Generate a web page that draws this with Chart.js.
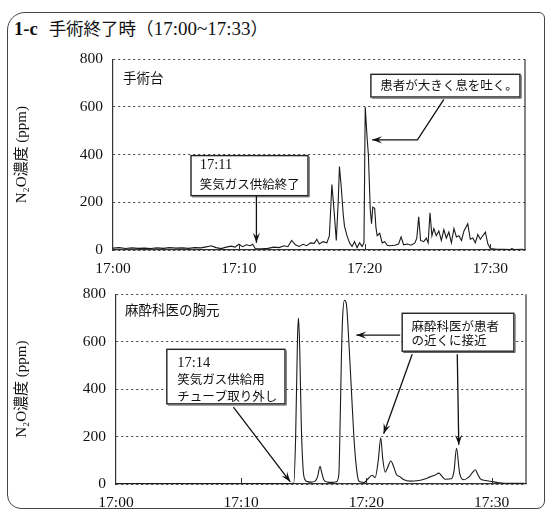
<!DOCTYPE html>
<html><head><meta charset="utf-8">
<script src="https://cdn.jsdelivr.net/npm/chart.js@4/dist/chart.umd.min.js"></script>
<style>
html,body{margin:0;padding:0;background:#fff;width:554px;height:516px;overflow:hidden;}
#frame{position:absolute;left:7px;top:12px;width:538px;height:497px;border:1.5px solid #444;border-radius:18px 6px 8px 14px;box-sizing:border-box;}
#title{position:absolute;left:14px;top:17px;font-size:19px;line-height:22px;color:#111;white-space:nowrap;
 font-family:'Liberation Serif','DejaVu Serif','Noto Sans CJK JP',serif;}
#title b{font-weight:bold;font-size:18.5px;margin-right:11px;}
#title .jp{font-family:'Noto Sans CJK JP',sans-serif;font-size:17.5px;}
canvas{position:absolute;left:0;}
#c1{top:40px;}
#c2{top:275px;}
</style></head>
<body>
<div id="frame"></div>
<div id="title"><b>1-c</b><span class="jp">手術終了時（</span>17:00~17:33<span class="jp">）</span></div>
<canvas id="c1" width="554" height="240"></canvas>
<canvas id="c2" width="554" height="240"></canvas>
<script>
// ---- data (minutes after 17:00, N2O ppm) ----
const xTickLabels = ['17:00','17:10','17:20','17:30'];
const yTickValues = [0,200,400,600,800];

const topTimes = [0,0.5,1.0,1.5,2.0,2.5,3.0,3.5,4.0,4.5,5.0,5.5,6.0,6.5,7.0,7.5,7.8,8.2,8.6,9.0,9.4,9.7,10.0,10.3,10.6,10.9,11.1,11.3,11.8,12.3,12.8,13.2,13.6,13.9,14.2,14.5,14.8,15.1,15.4,15.7,16.0,16.2,16.4,16.7,17.0,17.2,17.4,17.55,17.75,17.9,18.0,18.15,18.3,18.4,18.6,18.8,19.0,19.2,19.4,19.6,19.8,19.95,20.05,20.2,20.3,20.45,20.55,20.65,20.8,20.9,21.0,21.2,21.4,21.6,21.8,22.0,22.4,22.7,22.9,23.1,23.4,23.7,24.0,24.15,24.3,24.45,24.7,24.9,25.05,25.2,25.35,25.5,25.7,25.9,26.1,26.3,26.5,26.7,26.9,27.1,27.3,27.5,27.7,27.9,28.2,28.4,28.6,28.8,29.0,29.2,29.4,29.6,29.8,30.0,30.5,31.0,31.6,31.7,31.9,32.6];
const topValues = [8,10,6,9,7,8,6,9,7,10,8,9,7,10,9,14,18,10,6,12,16,12,24,14,22,18,24,6,5,7,12,10,18,14,40,22,15,24,18,30,28,45,25,35,30,60,275,180,40,200,350,260,150,100,60,30,15,35,10,30,15,30,600,470,400,170,110,180,175,95,60,70,30,35,20,18,20,25,55,22,25,20,30,50,139,40,35,50,30,156,60,90,60,80,40,85,50,75,30,90,55,60,40,80,110,45,50,30,65,45,60,75,25,6,3,3,2,6,2,3];

const botTimes = [0,5,10,13.5,14.2,14.35,14.5,14.58,14.68,14.8,14.95,15.1,15.3,15.6,15.9,16.1,16.3,16.4,16.6,16.9,17.3,17.6,17.8,17.9,18.0,18.1,18.25,18.4,18.6,18.8,19.0,19.2,19.4,19.6,19.8,20.1,20.45,20.7,20.95,21.15,21.3,21.5,21.7,21.95,22.2,22.4,22.7,22.96,23.5,24.2,24.6,25.1,25.5,25.8,26.0,26.3,26.8,27.0,27.2,27.45,27.8,28.2,28.5,28.7,28.9,29.1,29.5,30.1,30.6,31.0,32.1,32.6];
const botValues = [2,2,2,2,3,200,620,700,560,250,60,18,10,8,12,30,75,55,18,8,7,9,40,250,520,700,775,760,600,400,200,70,12,8,6,20,37,27,100,195,110,50,70,97,70,40,30,19,12,15,20,30,38,46,35,20,22,55,151,45,18,30,50,60,40,22,15,10,5,3,3,3];

// ---- helpers ----
const SERIF = "'Liberation Serif','DejaVu Serif','Noto Sans CJK JP',serif";
const JP = "'Noto Sans CJK JP',sans-serif";
function pts(ts, vs){ return ts.map((t,i)=>({x:t,y:vs[i]})); }

function arrow(ctx, p){
  ctx.beginPath(); ctx.moveTo(p[0][0],p[0][1]);
  for(let i=1;i<p.length;i++) ctx.lineTo(p[i][0],p[i][1]);
  ctx.stroke();
  const a=p[p.length-2], b=p[p.length-1];
  const ang=Math.atan2(b[1]-a[1], b[0]-a[0]);
  const L=10, W=3.6;
  ctx.beginPath();
  ctx.moveTo(b[0],b[1]);
  ctx.lineTo(b[0]-L*Math.cos(ang)+W*Math.sin(ang), b[1]-L*Math.sin(ang)-W*Math.cos(ang));
  ctx.lineTo(b[0]-0.6*L*Math.cos(ang), b[1]-0.6*L*Math.sin(ang));
  ctx.lineTo(b[0]-L*Math.cos(ang)-W*Math.sin(ang), b[1]-L*Math.sin(ang)+W*Math.cos(ang));
  ctx.closePath(); ctx.fill();
}

const decor = {
  id:'decor',
  afterDatasetsDraw(chart, args, o){
    const {ctx, chartArea:ca, scales:{x,y}} = chart;
    const X=v=>x.getPixelForValue(v), Y=v=>y.getPixelForValue(v);
    ctx.save();
    ctx.strokeStyle='#333'; ctx.lineWidth=1.2;
    ctx.beginPath(); ctx.moveTo(ca.right, ca.top); ctx.lineTo(ca.right, ca.bottom); ctx.stroke();
    ctx.lineWidth=1;
    x.ticks.forEach(t=>{ if(t.value>0){ const px=Math.round(X(t.value))+0.5; ctx.beginPath(); ctx.moveTo(px,ca.bottom); ctx.lineTo(px,ca.bottom-6); ctx.stroke(); }});
    ctx.fillStyle='#111'; ctx.textBaseline='middle'; ctx.textAlign='left';
    ctx.font='13.5px '+JP;
    ctx.fillText(o.label.text, X(o.label.t), Y(o.label.v));
    (o.boxes||[]).forEach(b=>{
      const x0=X(b.t0), x1=X(b.t1), y0=Y(b.v0), y1=Y(b.v1);
      ctx.fillStyle='#fff'; ctx.fillRect(x0,y0,x1-x0,y1-y0);
      ctx.strokeStyle='#222'; ctx.lineWidth=1.4; ctx.strokeRect(x0,y0,x1-x0,y1-y0);
      ctx.lineWidth=1; ctx.strokeStyle='#555';
      ctx.beginPath(); ctx.moveTo(x1+1.2,y0+1); ctx.lineTo(x1+1.2,y1+1.2); ctx.lineTo(x0+1,y1+1.2); ctx.stroke();
      ctx.fillStyle='#111';
      b.lines.forEach(l=>{
        ctx.font=(l.serif?'14.5px '+SERIF:'12.5px '+JP);
        ctx.fillText(l.text, X(b.tt), Y(l.v));
      });
    });
    ctx.strokeStyle='#111'; ctx.fillStyle='#111'; ctx.lineWidth=1.3;
    (o.arrows||[]).forEach(a=>arrow(ctx, a.map(p=>[X(p[0]),Y(p[1])])));
    ctx.restore();
  }
};

function makeChart(id, ts, vs, yWidth, padTop, padRight, padBottom, smooth, ann){
  return new Chart(document.getElementById(id), {
    type:'line',
    data:{datasets:[{data:pts(ts,vs), borderColor:'#1a1a1a', borderWidth:1.1, pointRadius:0,
      tension: smooth?0.35:0, cubicInterpolationMode: smooth?'monotone':'default', fill:false}]},
    options:{
      responsive:false, animation:false, events:[],
      layout:{padding:{top:padTop,right:padRight,bottom:padBottom,left:0}},
      plugins:{legend:{display:false}, tooltip:{enabled:false}, decor:ann},
      scales:{
        x:{type:'linear', min:0, max:32.75,
          afterFit:s=>{s.height=30;},
          afterBuildTicks:s=>{s.ticks=[0,10,20,30].map(v=>({value:v}));},
          grid:{display:false, drawTicks:false},
          border:{display:true, color:'#333', width:1.2},
          ticks:{padding:10, color:'#111', font:{family:SERIF, size:15.5}, maxRotation:0,
            callback:v=>xTickLabels[Math.round(v/10)]}},
        y:{min:0, max:800,
          afterFit:s=>{s.width=yWidth;},
          afterBuildTicks:s=>{s.ticks=yTickValues.map(v=>({value:v}));},
          grid:{color:'#444', lineWidth:1, drawTicks:false},
          border:{display:true, color:'#333', width:1.2, dash:[2,3]},
          ticks:{padding:10, color:'#111', font:{family:SERIF, size:15.5}},
          title:{display:true, text:'N₂O濃度 (ppm)', color:'#111', font:{family:SERIF, size:15}, padding:{top:13,bottom:0}}}
      }
    },
    plugins:[decor]
  });
}

makeChart('c1', topTimes, topValues, 113, 14, 29, 0, false, {
  label:{t:0.8, v:722, text:'手術台'},
  boxes:[
    {t0:6.2,t1:15.5,v0:396,v1:228, tt:6.9, lines:[{text:'17:11',serif:true,v:355},{text:'笑気ガス供給終了',v:275}]},
    {t0:20.5,t1:32.35,v0:737,v1:642, tt:21.25, lines:[{text:'患者が大きく息を吐く。',v:690}]}
  ],
  arrows:[
    [[11.4,228],[11.4,30]],
    [[26.3,632],[24.2,462],[20.6,462]]
  ]
});

makeChart('c2', botTimes, botValues, 116, 12, 28, 1, true, {
  label:{t:0.72, v:735, text:'麻酔科医の胸元'},
  boxes:[
    {t0:4.06,t1:13.5,v0:568,v1:338, tt:4.9, lines:[{text:'17:14',serif:true,v:508},{text:'笑気ガス供給用',v:440},{text:'チューブ取り外し',v:372}]},
    {t0:22.86,t1:31.78,v0:720,v1:560, tt:23.6, lines:[{text:'麻酔科医が患者',v:666},{text:'の近くに接近',v:605}]}
  ],
  arrows:[
    [[9.38,324],[13.92,9]],
    [[22.7,628],[19.2,628]],
    [[23.66,547],[21.38,212]],
    [[27.26,547],[27.38,165]]
  ]
});
</script>
</body></html>
